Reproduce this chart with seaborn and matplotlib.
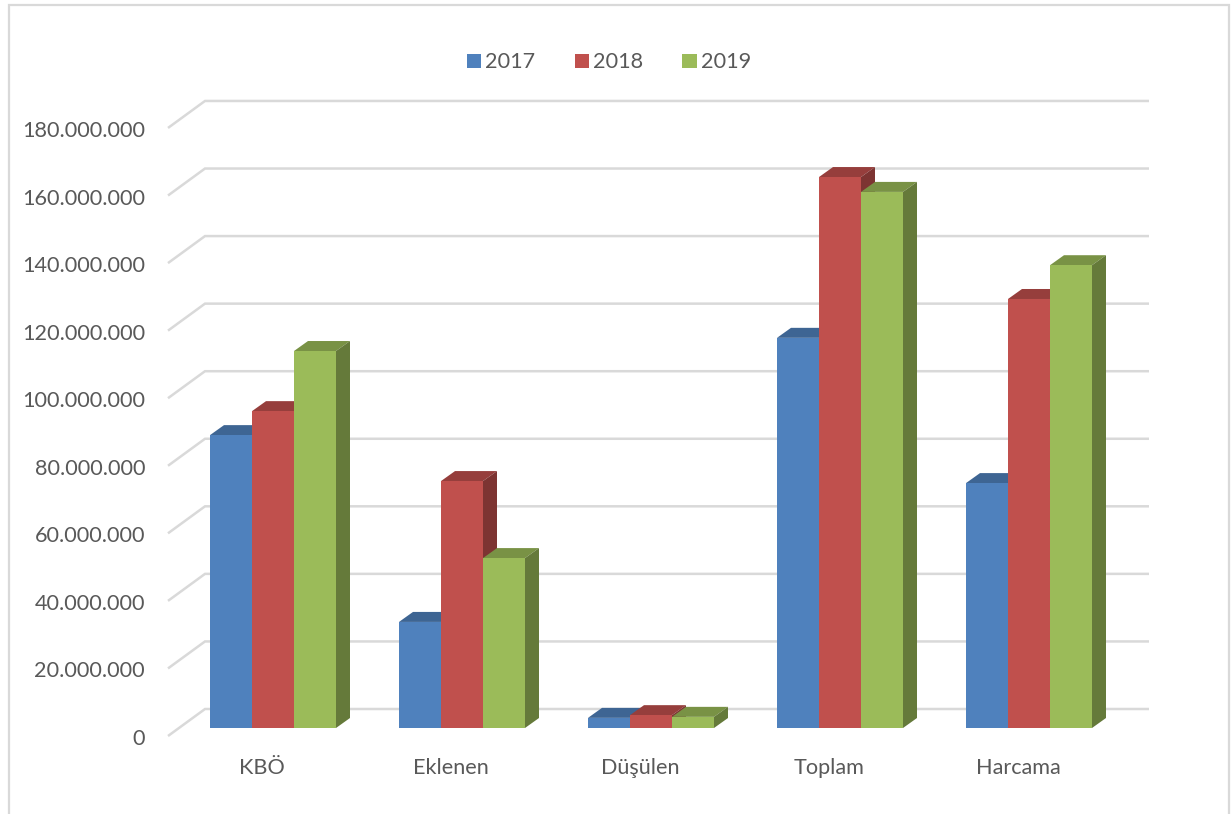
import matplotlib
matplotlib.use("Agg")
import matplotlib.pyplot as plt
import matplotlib.transforms as mtrans
from matplotlib.lines import Line2D
from matplotlib.patches import Patch, Polygon
import numpy as np
import pandas as pd
import seaborn as sns

categories = ["KBÖ", "Eklenen", "Düşülen", "Toplam", "Harcama"]
v2017 = [86700000, 31400000, 3000000, 115500000, 72500000]
v2018 = [93800000, 73100000, 3800000, 163100000, 127000000]
v2019 = [111600000, 50300000, 3300000, 158700000, 137000000]
years = ["2017", "2018", "2019"]
colors = ["#4F81BD", "#C0504D", "#9BBB59"]
yticks = list(range(0, 180000001, 20000000))

df = pd.DataFrame({"cat": categories * 3,
                   "year": np.repeat(years, 5),
                   "value": v2017 + v2018 + v2019})

sns.set_theme(style="white")
plt.rcParams["font.family"] = ["Lato", "DejaVu Sans"]

W, H = 1231, 814
fig = plt.figure(figsize=(W / 100, H / 100), dpi=100)
# axes box in pixels: value 0 sits on the front edge of the bars
left, right, top, bottom = 168, 1149, 100, 728
ax = fig.add_axes([left / W, 1 - bottom / H, (right - left) / W, (bottom - top) / H])

px_x = 1 / 189            # one pixel in category units
px_y = 1e6 / 3.378        # one pixel in value units

sns.barplot(data=df, x="cat", y="value", hue="year", palette=colors, hue_order=years,
            width=2 / 3, gap=0, saturation=1, legend=False, ax=ax)
ax.set_xlim((left - 273) * px_x, (right - 273) * px_x)
ax.set_ylim(0, (bottom - top) * px_y)
ax.set_xlabel("")
ax.set_ylabel("")
sns.despine(ax=ax, left=True, bottom=True)

# back wall gridlines with the slanted piece on the left
wall_x0 = ax.get_xlim()[0]
for v in yticks:
    xs = [wall_x0, wall_x0 + 37 * px_x, ax.get_xlim()[1]]
    ys = [v - 8 * px_y, v + 19 * px_y, v + 19 * px_y]
    ax.plot(xs, ys, color="#D9D9D9", lw=1.8, clip_on=False, zorder=1,
            solid_capstyle="butt", solid_joinstyle="miter")

# fake depth: each bar gets a top and a side, painted left to right
bars = [p for p in ax.patches if p.get_height() > 0]
bars = sorted(bars, key=lambda p: p.get_x())
depth_x, depth_y = 14 * px_x, 10 * px_y
for i, bar in enumerate(bars):
    x0, w, h = bar.get_x(), bar.get_width(), bar.get_height()
    base = np.array(matplotlib.colors.to_rgb(bar.get_facecolor()))
    z = 3 + i
    ax.add_patch(Polygon([(x0, h), (x0 + w, h), (x0 + w + depth_x, h + depth_y), (x0 + depth_x, h + depth_y)],
                         closed=True, fc=base * 0.78, ec="none", zorder=z, clip_on=False))
    ax.add_patch(Polygon([(x0 + w, 0), (x0 + w, h), (x0 + w + depth_x, h + depth_y), (x0 + w + depth_x, depth_y)],
                         closed=True, fc=base * 0.65, ec="none", zorder=z, clip_on=False))
    bar.set_zorder(z + 0.5)
    bar.set_edgecolor("none")

ax.set_yticks(yticks)
ax.set_yticklabels([f"{v:,}".replace(",", ".") for v in yticks])
ax.tick_params(axis="y", length=0, pad=16.5, labelsize=15.6, labelcolor="#595959")
ax.tick_params(axis="x", length=0, pad=21.5, labelsize=15.6, labelcolor="#595959")
shift_y = mtrans.ScaledTranslation(0, -9 / 100, fig.dpi_scale_trans)
shift_x = mtrans.ScaledTranslation(-11 / 100, 0, fig.dpi_scale_trans)
for lab in ax.get_yticklabels():
    lab.set_transform(lab.get_transform() + shift_y)
for lab in ax.get_xticklabels():
    lab.set_transform(lab.get_transform() + shift_x)

handles = [Patch(fc=c, ec="none", label=y) for c, y in zip(colors, years)]
fig.legend(handles=handles, loc="center", bbox_to_anchor=(609 / W, 1 - 62.5 / H), ncol=3, frameon=False,
           fontsize=15.6, labelcolor="#595959", handlelength=0.65, handleheight=0.65,
           handletextpad=0.2, columnspacing=1.81)

# outer chart frame, runs off the bottom of the picture
fx, fy = [9 / W, 9 / W, 1229 / W, 1229 / W], [0, 1 - 5 / H, 1 - 5 / H, 0]
fig.add_artist(Line2D(fx, fy, color="#D9D9D9", lw=1.6, solid_joinstyle="miter"))

fig.savefig("out.png", dpi=100)
